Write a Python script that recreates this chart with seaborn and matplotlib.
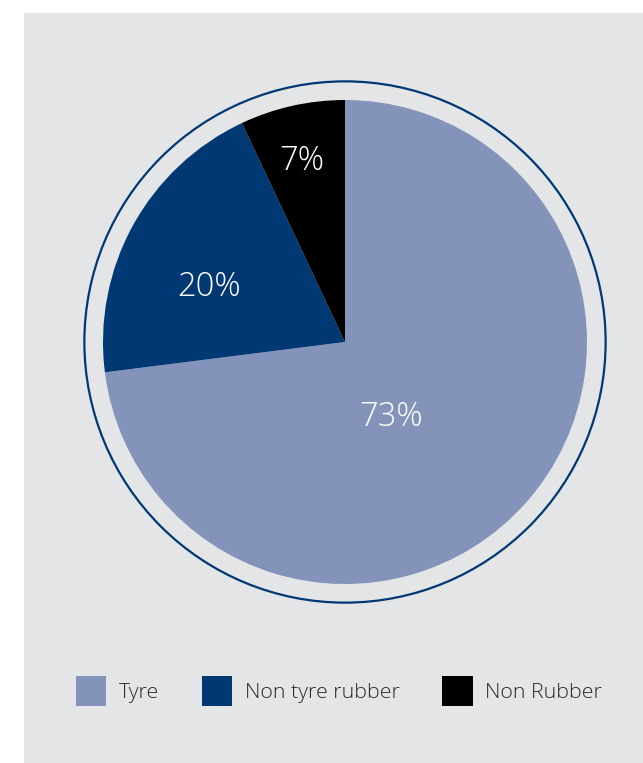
import matplotlib
matplotlib.use("Agg")
import matplotlib.pyplot as plt
import matplotlib.patches as mpatches
import seaborn as sns

categories = ["Tyre", "Non tyre rubber", "Non Rubber"]
values = [73, 20, 7]
pct_labels = ["73%", "20%", "7%"]
colors = ["#8493BA", "#003874", "#000000"]

sns.set_style("white")
plt.rcParams['font.family'] = ['Open Sans', 'DejaVu Sans']

W, H, DPI = 643, 763, 100
fig = plt.figure(figsize=(W / DPI, H / DPI), dpi=DPI)
fig.patch.set_facecolor("white")

# gray panel
fig.patches.append(mpatches.Rectangle((24 / W, 0), (W - 24) / W, (H - 13) / H,
                                      transform=fig.transFigure, facecolor="#E4E5E7",
                                      edgecolor="none", zorder=-5))

cx, cy, R = 345, 342, 242
half = 1.1 * R
ax = fig.add_axes([(cx - half) / W, (H - cy - half) / H, 2 * half / W, 2 * half / H])
ax.set_zorder(2)
ax.patch.set_alpha(0)

palette = sns.color_palette(colors)
wedges, _ = ax.pie(values, colors=palette, startangle=90, counterclock=False,
                   radius=1.0, wedgeprops=dict(linewidth=0))
ax.set_xlim(-1.1, 1.1)
ax.set_ylim(-1.1, 1.1)
ax.set_aspect("equal")
ax.axis("off")

ring = mpatches.Circle((0, 0), 1.077, fill=False, edgecolor="#003874", linewidth=1.6)
ax.add_patch(ring)

# label positions (in units of pie radius)
label_pos = [(0.19, -0.312), (-0.56, 0.228), (-0.178, 0.748)]
for (lx, ly), t in zip(label_pos, pct_labels):
    ax.text(lx, ly, t, color="white", fontsize=23.5, fontweight="light", ha="center", va="center")

handles = [mpatches.Patch(facecolor=c, edgecolor="none", label=l) for c, l in zip(colors, categories)]
leg = fig.legend(handles=handles, loc="center", bbox_to_anchor=(339 / W, 1 - 691 / H), ncol=3,
                 frameon=False, handlelength=1.42, handleheight=1.8,
                 prop=dict(size=15.4, weight="light"),
                 handletextpad=0.58, columnspacing=2.0, labelcolor="#2a2a2a")
leg.set_zorder(3)

fig.savefig("out.png", dpi=DPI)
